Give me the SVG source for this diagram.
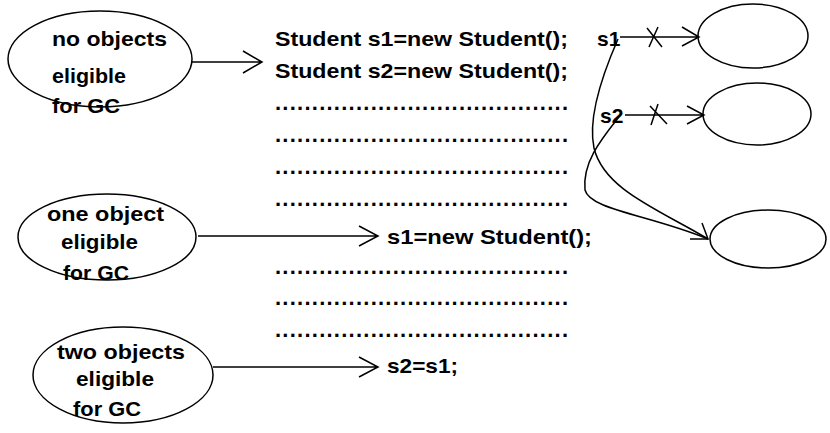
<svg xmlns="http://www.w3.org/2000/svg" width="830" height="433" viewBox="0 0 830 433">
<style>
.t{font-family:"Liberation Sans",Arial,sans-serif;font-weight:bold;font-size:21px;fill:#000}
.d{font-family:"Liberation Sans",Arial,sans-serif;font-weight:bold;font-size:22px;fill:#000}
.e{fill:none;stroke:#000;stroke-width:1.5}
.c{fill:none;stroke:#000;stroke-width:1.5}
</style>
<rect width="830" height="433" fill="#fff"/>
<g id="gc-none">
<ellipse class="e" cx="100" cy="59" rx="92" ry="48"/>
<text class="t" x="52" y="46" textLength="115" lengthAdjust="spacingAndGlyphs">no objects</text>
<text class="t" x="52" y="83" textLength="74" lengthAdjust="spacingAndGlyphs">eligible</text>
<text class="t" x="52" y="113" textLength="68" lengthAdjust="spacingAndGlyphs">for GC</text>
</g>
<g id="gc-one">
<ellipse class="e" cx="107" cy="237" rx="89" ry="43"/>
<text class="t" x="47" y="221" textLength="117" lengthAdjust="spacingAndGlyphs">one object</text>
<text class="t" x="61" y="249" textLength="77" lengthAdjust="spacingAndGlyphs">eligible</text>
<text class="t" x="63" y="280" textLength="66" lengthAdjust="spacingAndGlyphs">for GC</text>
</g>
<g id="gc-two">
<ellipse class="e" cx="123" cy="375" rx="90" ry="48"/>
<text class="t" x="57" y="359" textLength="128" lengthAdjust="spacingAndGlyphs">two objects</text>
<text class="t" x="76" y="386" textLength="78" lengthAdjust="spacingAndGlyphs">eligible</text>
<text class="t" x="73" y="416" textLength="68" lengthAdjust="spacingAndGlyphs">for GC</text>
</g>
<g id="code">
<text class="t" x="275" y="46" textLength="293" lengthAdjust="spacingAndGlyphs">Student s1=new Student();</text>
<text class="t" x="275" y="78" textLength="293" lengthAdjust="spacingAndGlyphs">Student s2=new Student();</text>
<text class="d" x="275" y="110" textLength="293" lengthAdjust="spacing">........................................</text>
<text class="d" x="275" y="142" textLength="293" lengthAdjust="spacing">........................................</text>
<text class="d" x="275" y="174" textLength="293" lengthAdjust="spacing">........................................</text>
<text class="d" x="275" y="206" textLength="293" lengthAdjust="spacing">........................................</text>
<text class="t" x="387" y="244" textLength="205" lengthAdjust="spacingAndGlyphs">s1=new Student();</text>
<text class="d" x="275" y="274" textLength="293" lengthAdjust="spacing">........................................</text>
<text class="d" x="275" y="305" textLength="293" lengthAdjust="spacing">........................................</text>
<text class="d" x="275" y="337" textLength="293" lengthAdjust="spacing">........................................</text>
<text class="t" x="387" y="373" textLength="71" lengthAdjust="spacingAndGlyphs">s2=s1;</text>
</g>
<g id="vars">
<text class="t" x="597" y="46">s1</text>
<text class="t" x="600" y="123">s2</text>
</g>
<g id="obj1"><ellipse class="e" cx="753" cy="36" rx="55" ry="32"/></g>
<g id="obj2"><ellipse class="e" cx="757" cy="114" rx="54" ry="31"/></g>
<g id="obj3"><ellipse class="e" cx="768" cy="239" rx="58" ry="29"/></g>
<g id="connectors">
<path class="c" d="M192 62 H262 M243 51 L262 62 L243 73"/>
<path class="c" d="M198 236 H378 M359 226 L378 236 L359 246"/>
<path class="c" d="M213 367 H378 M359 357 L378 367 L359 377"/>
<path class="c" d="M620 37 H699 M682 27 L699 37 L682 46"/>
<path class="c" d="M647 28 L662 47 M658 27 L649 47"/>
<path class="c" d="M625 115 H704 M687 106 L704 115 L687 124"/>
<path class="c" d="M650 106 L667 124 M658 104 L651 125"/>
<path class="c" d="M618 39 C600 80 588 120 594 148 C604 190 660 210 708 239"/>
<path class="c" d="M622 113 C605 135 582 160 585 190 C590 210 650 215 708 239"/>
<path class="c" d="M690 239 L708 239 L702 223"/>
</g>
</svg>
